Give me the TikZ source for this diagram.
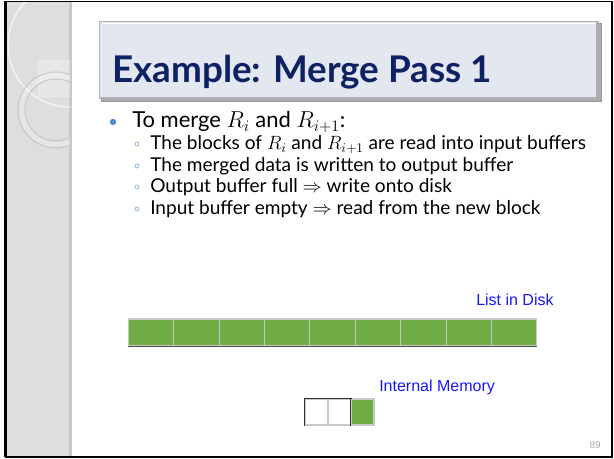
\documentclass[tikz,border=0pt]{standalone}
\usepackage{fontspec}
\setmainfont{Lato}
\newfontfamily\labelfont{Liberation Sans}
\definecolor{navy}{RGB}{14,33,100}
\definecolor{panelgray}{RGB}{222,222,222}
\definecolor{paneledge}{RGB}{200,200,200}
\definecolor{ringgray}{RGB}{200,200,200}
\definecolor{boxfill}{RGB}{227,232,240}
\definecolor{boxline}{RGB}{176,180,188}
\definecolor{boxshade}{RGB}{150,152,156}
\definecolor{bulletblue}{RGB}{79,140,210}
\definecolor{blockgreen}{RGB}{112,173,71}
\definecolor{blockline}{RGB}{200,200,200}
\definecolor{labelblue}{RGB}{24,24,255}
\definecolor{pagegray}{RGB}{170,170,170}
\tikzset{
  titletext/.style={anchor=base west, inner sep=0pt, text=navy, font=\fontsize{27.6}{27.6}\selectfont\bfseries},
  mainitem/.style={anchor=base west, inner sep=0pt, text height=11pt, text depth=2.5pt,
    font=\fontsize{16.5}{16.5}\selectfont},
  subitem/.style={anchor=base west, inner sep=0pt, text height=10pt, text depth=2.5pt,
    font=\fontsize{14.3}{14.3}\selectfont},
  bluelabel/.style={anchor=base west, inner sep=0pt, text=labelblue, font=\labelfont\fontsize{12}{12}\selectfont},
  diskblock/.style={draw=blockline, fill=blockgreen, line width=0.8pt, inner sep=0pt,
    minimum width=34.05pt, minimum height=20.25pt},
  memcell/.style={draw=blockline, line width=0.8pt, inner sep=0pt,
    minimum width=17.25pt, minimum height=19.5pt},
  subdot/.style={draw=bulletblue!70, line width=0.5pt, fill=white}
}
\begin{document}
\begin{tikzpicture}[x=0.75pt,y=-0.75pt]
\useasboundingbox (0,0) rectangle (614,459);
\fill[white] (0,0) rectangle (614,459);

% textured side panel with its ring ornaments
\fill[panelgray] (6,2) rectangle (72,456);
\fill[paneledge] (69,2) rectangle (72,456);
\begin{scope}
  \clip (6,2) rectangle (70,456);
  \fill[white, opacity=0.3] (38,60) rectangle (72,97);
  \draw[white, opacity=0.8, line width=0.8pt] (70,45) circle[radius=62];
  \draw[ringgray, line width=0.8pt] (56,110) circle[radius=38];
  \draw[ringgray, line width=0.8pt] (56,110) circle[radius=31];
  \draw[white, opacity=0.25, line width=4pt] (56,110) circle[radius=34.5];
\end{scope}

% slide frame
\draw[black, line width=1.2pt] (5.5,1.5) rectangle (612,457);
\draw[black, line width=2.4pt] (5.5,1.5) -- (5.5,457);

% title bar
\fill[boxshade] (101,23) rectangle (602,102);
\fill[boxfill] (99,21) rectangle (598,98);
\draw[boxline, line width=1.2pt] (99.5,21.5) rectangle (598,98);
\draw[white, line width=0.8pt] (101.5,23.5) -- (596,23.5);
\fill[boxshade!80!white] (596,21) -- (601,26) -- (601,101) -- (596,98) -- cycle;
\fill[boxshade!80!white] (99,98) -- (596,98) -- (601,101) -- (103,101) -- cycle;
\node[titletext] (title) at (112,83) {Example: Merge Pass 1};

% bullet list
\fill[bulletblue] (113,122) circle[radius=3.2];
\node[mainitem] (m1) at (132,128) {To merge $R_i$ and $R_{i+1}$:};
\foreach \yb/\txt [count=\k] in {
  150/{The blocks of $R_i$ and $R_{i+1}$ are read into input buffers},
  172/{The merged data is written to output buffer},
  193/{Output buffer full $\Rightarrow$ write onto disk},
  215/{Input buffer empty $\Rightarrow$ read from the new block}}{
  \draw[subdot] (137,\yb-6) circle[radius=2];
  \node[subitem] (s\k) at (150,\yb) {\txt};
}

% list of blocks on disk
\node[bluelabel] (disklabel) at (476,306) {List in Disk};
\foreach \i in {0,...,8}{
  \node[diskblock] (d\i) at ({151+45.4*\i},332.5) {};
  \draw[black!70, line width=0.9pt] (d\i.south west) -- (d\i.south east);
}

% buffers in internal memory
\node[bluelabel] (memlabel) at (379,392) {Internal Memory};
\node[memcell, fill=white] (in1) at (316.5,412) {};
\node[memcell, fill=white] (in2) at (339.5,412) {};
\node[memcell, fill=blockgreen] (out) at (362.5,412) {};
\draw[black!80, line width=0.9pt] (in1.south west) -- (in1.north west) -- (in2.north east);
\draw[black!80, line width=0.9pt] (out.north west) -- (out.south west);

% page number
\node[anchor=base east, inner sep=0pt, text=pagegray, font=\labelfont\fontsize{7.5}{7.5}\selectfont] (page) at (601,449) {89};
\end{tikzpicture}
\end{document}
